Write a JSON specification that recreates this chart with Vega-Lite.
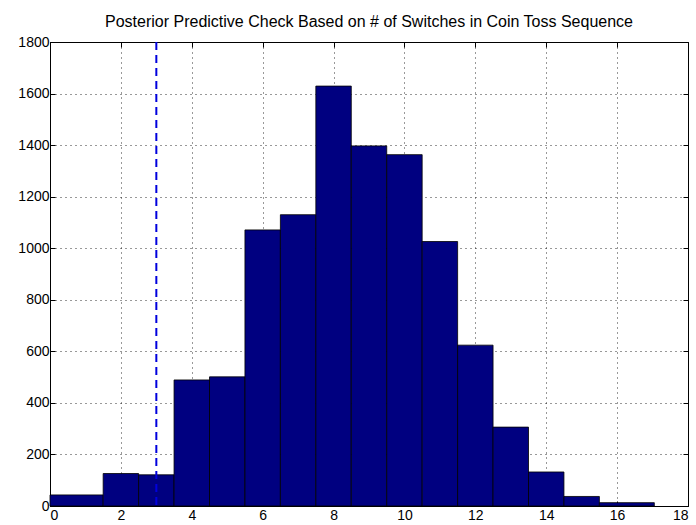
{
  "$schema": "https://vega.github.io/schema/vega-lite/v6.json",
  "autosize": "none",
  "width": 638,
  "height": 464,
  "padding": {"left": 50, "top": 42, "right": 8, "bottom": 19},
  "background": "white",
  "title": {
    "text": "Posterior Predictive Check Based on # of Switches in Coin Toss Sequence",
    "font": "Liberation Sans",
    "fontSize": 16,
    "fontWeight": "normal",
    "color": "black",
    "offset": 5,
    "anchor": "middle"
  },
  "config": {
    "view": {"stroke": "black", "strokeWidth": 1},
    "axis": {
      "labelFont": "Liberation Sans",
      "labelFontSize": 14,
      "labelColor": "black",
      "domainColor": "black",
      "tickColor": "black",
      "tickSize": -5,
      "grid": true,
      "gridColor": "black",
      "gridDash": [1, 4],
      "gridOpacity": 0.8,
      "title": null
    }
  },
  "resolve": {"axis": {"x": "independent", "y": "independent"}},
  "data": {
    "values": [
      {"x0": 0, "x1": 1.5, "count": 43},
      {"x0": 1.5, "x1": 2.5, "count": 126},
      {"x0": 2.5, "x1": 3.5, "count": 121},
      {"x0": 3.5, "x1": 4.5, "count": 489},
      {"x0": 4.5, "x1": 5.5, "count": 501},
      {"x0": 5.5, "x1": 6.5, "count": 1071},
      {"x0": 6.5, "x1": 7.5, "count": 1130},
      {"x0": 7.5, "x1": 8.5, "count": 1629},
      {"x0": 8.5, "x1": 9.5, "count": 1397},
      {"x0": 9.5, "x1": 10.5, "count": 1363},
      {"x0": 10.5, "x1": 11.5, "count": 1026},
      {"x0": 11.5, "x1": 12.5, "count": 624},
      {"x0": 12.5, "x1": 13.5, "count": 306},
      {"x0": 13.5, "x1": 14.5, "count": 132},
      {"x0": 14.5, "x1": 15.5, "count": 37},
      {"x0": 15.5, "x1": 17.05, "count": 13}
    ]
  },
  "layer": [
    {
      "mark": {"type": "bar", "fill": "#000080", "stroke": "#000000", "strokeWidth": 1, "strokeOpacity": 0.8},
      "encoding": {
        "x": {
          "field": "x0", "type": "quantitative",
          "scale": {"domain": [0, 18], "nice": false},
          "axis": {"values": [0, 2, 4, 6, 8, 10, 12, 14, 16, 18], "labelPadding": 7, "format": "d"}
        },
        "x2": {"field": "x1"},
        "y": {
          "field": "count", "type": "quantitative",
          "scale": {"domain": [0, 1800], "nice": false},
          "axis": {"values": [0, 200, 400, 600, 800, 1000, 1200, 1400, 1600, 1800], "labelPadding": 6, "format": "d"}
        },
        "y2": {"datum": 0}
      }
    },
    {
      "mark": {"type": "bar", "opacity": 0},
      "encoding": {
        "x": {
          "field": "x0", "type": "quantitative",
          "axis": {"orient": "top", "values": [0, 2, 4, 6, 8, 10, 12, 14, 16, 18], "labels": false, "grid": false, "domain": false}
        },
        "x2": {"field": "x1"},
        "y": {
          "field": "count", "type": "quantitative",
          "axis": {"orient": "right", "values": [0, 200, 400, 600, 800, 1000, 1200, 1400, 1600, 1800], "labels": false, "grid": false, "domain": false}
        },
        "y2": {"datum": 0}
      }
    },
    {
      "data": {"values": [{"obs": 3}]},
      "mark": {"type": "rule", "color": "#0000dd", "strokeWidth": 2, "strokeDash": [8, 5]},
      "encoding": {
        "x": {"field": "obs", "type": "quantitative", "axis": null}
      }
    }
  ]
}
